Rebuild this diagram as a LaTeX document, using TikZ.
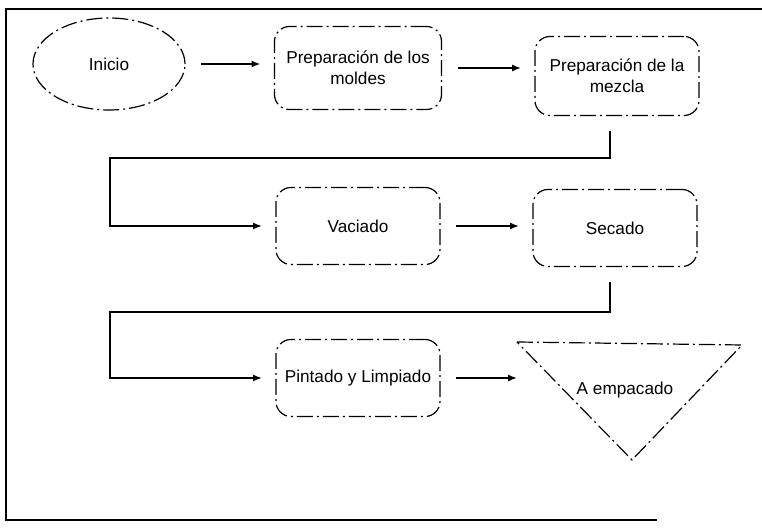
\documentclass[tikz,border=0pt]{standalone}
\usepackage{fontspec}
\setmainfont{Liberation Sans}
\usetikzlibrary{shapes.geometric,arrows.meta}

\begin{document}
\begin{tikzpicture}[x=0.5pt,y=-0.5pt,
  every node/.style={font=\fontsize{8.6}{10.5}\selectfont, inner sep=2pt, outer sep=0pt},
  linea/.style={line width=0.6pt, dash pattern=on 8pt off 2pt on 1pt off 2pt},
  caja/.style={linea, draw, rounded corners=7.5pt, minimum width=82pt, minimum height=38.5pt, align=center},
  flecha/.style={-{Latex[length=4.5pt,width=3.6pt]}, line width=0.9pt, shorten <=8pt, shorten >=7pt}]
\useasboundingbox (0,0) rectangle (762,528);
\draw[line width=1.1pt] (657,520) -- (6,520) -- (6,9) -- (762,9);

\node[linea, draw, ellipse, minimum width=76pt, minimum height=46pt] (inicio) at (109,64) {Inicio};
\node[caja, minimum width=83.5pt, minimum height=41.5pt] (moldes) at (358,68) {Preparación de los\\moldes};
\node[caja, minimum height=39.5pt] (mezcla) at (617,76) {Preparación de la\\mezcla};
\node[caja] (vaciado) at (358,226) {Vaciado};
\node[caja] (secado) at (615,228) {Secado};
\node[caja] (pintado) at (358,378) {Pintado y Limpiado};

\coordinate (t1) at (517,342);
\coordinate (t2) at (742,345);
\coordinate (t3) at (632,460);
\draw[linea] (t1) -- (t2) -- (t3) -- cycle;
\node (empacado) at (625,390) {A empacado};

\coordinate (codo1) at (110,158);
\coordinate (codo2) at (110,312);

\draw[flecha] (inicio) -- (inicio -| moldes.west);
\draw[flecha] (moldes.east) -- (moldes.east -| mezcla.west);
\draw[flecha] ([xshift=-3.5pt]mezcla.south) |- (codo1) |- (vaciado);
\draw[flecha] (vaciado.east) -- (vaciado.east -| secado.west);
\draw[flecha] ([xshift=-2.5pt]secado.south) |- (codo2) |- (pintado);
\draw[flecha, shorten >=0pt] (pintado.east) -- (pintado.east -| t1);
\end{tikzpicture}
\end{document}
